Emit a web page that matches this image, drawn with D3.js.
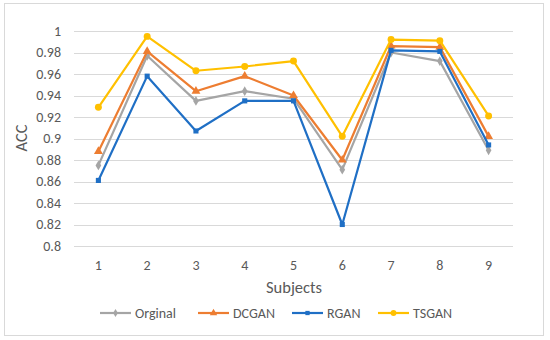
<!DOCTYPE html>
<html><head><meta charset="utf-8">
<script src="https://cdn.jsdelivr.net/npm/d3@7"></script>
<style>body{margin:0;background:#fff}svg{display:block}</style>
</head><body><svg id="c" width="550" height="340"></svg>
<script>
const subjects = ["1","2","3","4","5","6","7","8","9"];
const original = [0.875,0.977,0.935,0.944,0.937,0.871,0.980,0.972,0.889];
const dcgan    = [0.888,0.981,0.944,0.958,0.940,0.880,0.986,0.985,0.902];
const rgan     = [0.861,0.958,0.907,0.935,0.935,0.820,0.982,0.981,0.894];
const tsgan    = [0.929,0.995,0.963,0.967,0.972,0.902,0.992,0.991,0.921];
const yTicks   = [0.8,0.82,0.84,0.86,0.88,0.9,0.92,0.94,0.96,0.98,1];
const seriesNames = ["Orginal","DCGAN","RGAN","TSGAN"];
const seriesColors = ["#A5A5A5","#ED7D31","#1F6FC5","#FFC000"];
const seriesMarkers = ["diamond","triangle","square","circle"];
const seriesData = [original,dcgan,rgan,tsgan];

const svg = d3.select("#c");
const font = "Calibri, Carlito, 'Open Sans', 'Liberation Sans', sans-serif";
const txt = "#595959";
svg.append("rect").attr("x",4.5).attr("y",3.5).attr("width",539).attr("height",332)
  .attr("fill","#fff").attr("stroke","#D9D9D9");

const x = d3.scaleBand().domain(subjects).range([74,513]);
const y = d3.scaleLinear().domain([0.8,1]).range([246,31]);

// grid
svg.append("g").selectAll("line").data(yTicks).join("line")
  .attr("x1",74).attr("x2",513).attr("y1",d=>Math.round(y(d))+0.5).attr("y2",d=>Math.round(y(d))+0.5)
  .attr("stroke","#D9D9D9").attr("stroke-width",1);

// y axis
const ya = svg.append("g").attr("transform","translate(74,0)")
  .call(d3.axisLeft(y).tickValues(yTicks).tickSize(0).tickPadding(13).tickFormat(d=>String(+d.toFixed(2))));
ya.select(".domain").remove();
ya.selectAll("text").attr("fill",txt).style("font-family",font).style("font-size","14px");

// x axis
const xa = svg.append("g").attr("transform","translate(0,246)")
  .call(d3.axisBottom(x).tickSize(0).tickPadding(14));
xa.select(".domain").remove();
xa.selectAll("text").attr("fill",txt).style("font-family",font).style("font-size","14px");

svg.append("text").attr("x",294).attr("y",293).attr("text-anchor","middle")
  .attr("fill",txt).style("font-family",font).style("font-size","16.5px").text("Subjects");
svg.append("text").attr("transform","translate(27,138) rotate(-90)").attr("text-anchor","middle")
  .attr("fill",txt).style("font-family",font).style("font-size","16.5px").text("ACC");

const sym = {diamond:d3.symbolDiamond, triangle:d3.symbolTriangle, square:d3.symbolSquare, circle:d3.symbolCircle};
const symSize = {diamond:28, triangle:34, square:26, circle:38};
const cx = d => x(d) + x.bandwidth()/2;

seriesData.forEach((vals,i)=>{
  const g = svg.append("g");
  const pts = vals.map((v,j)=>[cx(subjects[j]), y(v)]);
  g.append("path").attr("d",d3.line()(pts)).attr("fill","none")
    .attr("stroke",seriesColors[i]).attr("stroke-width",2.2).attr("stroke-linejoin","round");
  g.selectAll("path.m").data(pts).join("path").attr("class","m")
    .attr("transform",p=>`translate(${p[0]},${p[1]})`)
    .attr("d",d3.symbol(sym[seriesMarkers[i]],symSize[seriesMarkers[i]]))
    .attr("fill",seriesColors[i]);
});

// legend
const legX = [100,198,292,378];
const legW = [31,31,31,31];
const lg = svg.append("g");
seriesNames.forEach((n,i)=>{
  const ly = 313;
  lg.append("line").attr("x1",legX[i]).attr("x2",legX[i]+legW[i]).attr("y1",ly).attr("y2",ly)
    .attr("stroke",seriesColors[i]).attr("stroke-width",2.2);
  lg.append("path").attr("transform",`translate(${legX[i]+legW[i]/2},${ly})`)
    .attr("d",d3.symbol(sym[seriesMarkers[i]],symSize[seriesMarkers[i]]*0.7)).attr("fill",seriesColors[i]);
  lg.append("text").attr("x",legX[i]+legW[i]+4).attr("y",ly+5)
    .attr("fill",txt).style("font-family",font).style("font-size","14px").text(n);
});
</script></body></html>
